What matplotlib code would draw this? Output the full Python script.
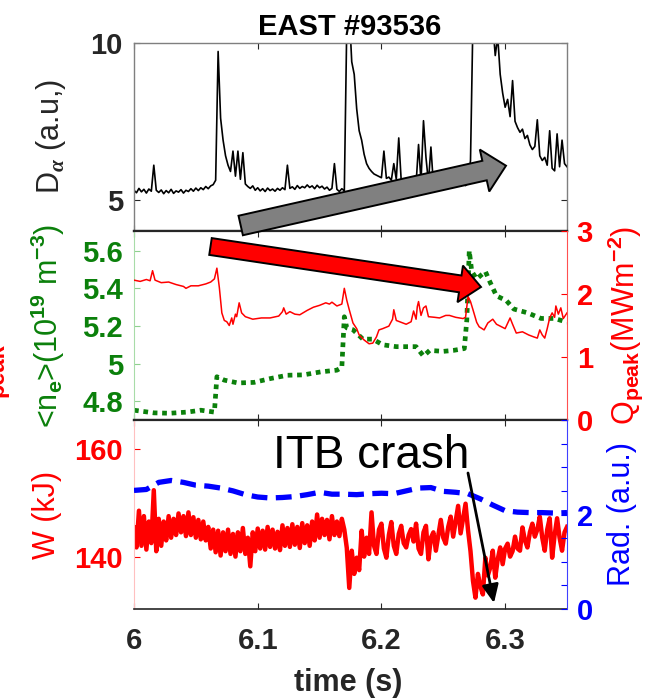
import numpy as np
import matplotlib
matplotlib.use("Agg")
import matplotlib.pyplot as plt
from matplotlib.patches import FancyArrow, FancyArrowPatch

plt.rcParams.update({
    "font.family": ["Liberation Sans", "DejaVu Sans"],
    "font.weight": "bold",
    "mathtext.fontset": "custom",
    "mathtext.rm": "Liberation Sans:bold",
    "mathtext.it": "Liberation Serif:italic",
    "mathtext.bf": "Liberation Sans:bold",
    "mathtext.default": "rm",
})

# ---------------- data ----------------
title = "EAST #93536"
xticks = [6.0, 6.1, 6.2, 6.3]
xticklabels = ["6", "6.1", "6.2", "6.3"]

# D_alpha (a.u.) sampled every 2 ms from 6.000 s
t_da = np.round(6.0 + 0.002 * np.arange(176), 3)
d_alpha = [
    5.30, 5.22, 5.36, 5.25, 5.33, 5.21, 5.34, 5.27, 6.10, 5.30,
    5.23, 5.31, 5.19, 5.29, 5.22, 5.33, 5.20, 5.28, 5.24, 5.32,
    5.21, 5.30, 5.26, 5.35, 5.27, 5.37, 5.29, 5.38, 5.32, 5.42,
    5.35, 5.44, 5.48, 5.62, 9.73, 7.60, 6.90, 6.40, 6.10, 5.90,
    6.55, 5.75, 6.55, 5.65, 6.50, 5.50, 5.42, 5.36, 5.44, 5.30,
    5.38, 5.28, 5.35, 5.26, 5.37, 5.29, 5.34, 5.27, 5.36, 5.30,
    5.38, 5.32, 6.10, 5.36, 5.41, 5.33, 5.45, 5.36, 5.42, 5.38,
    5.47, 5.39, 5.44, 5.35, 5.46, 5.38, 5.43, 5.34, 5.40, 5.30,
    5.36, 6.15, 5.33, 5.26, 5.35, 5.28, 10.6, 11.0, 9.40, 9.00,
    7.90, 7.20, 6.90, 6.45, 6.15, 6.00, 5.90, 5.82, 5.78, 5.74,
    5.70, 6.55, 5.68, 5.72, 5.62, 6.15, 5.65, 6.97, 5.60, 5.66,
    5.55, 5.62, 5.52, 5.60, 5.50, 6.76, 5.58, 7.52, 6.35, 5.55,
    6.68, 5.50, 5.46, 5.52, 5.44, 5.50, 5.42, 5.48, 5.40, 5.47,
    5.41, 5.48, 5.43, 5.50, 5.45, 5.52, 6.25, 10.8, 11.0, 11.0,
    11.0, 11.0, 11.0, 11.0, 11.0, 10.6, 9.60, 10.2, 9.00, 8.40,
    7.95, 8.20, 7.65, 8.80, 7.50, 7.30, 7.15, 7.25, 6.95, 7.05,
    6.75, 6.60, 6.70, 7.55, 6.40, 6.25, 6.35, 6.10, 7.20, 6.00,
    5.92, 7.10, 6.05, 6.90, 6.15, 6.05,
]

# line-averaged density <n_e> (1e19 m^-3)
t_ne = [6.000, 6.016, 6.029, 6.043, 6.054, 6.065, 6.067, 6.073, 6.084, 6.097,
        6.110, 6.124, 6.137, 6.151, 6.164, 6.168, 6.170, 6.172, 6.177, 6.185,
        6.193, 6.201, 6.212, 6.220, 6.228, 6.234, 6.239, 6.250, 6.258, 6.267,
        6.269, 6.271, 6.273, 6.277, 6.284, 6.288, 6.293, 6.301, 6.307, 6.318,
        6.329, 6.340, 6.350]
n_e = [4.752, 4.738, 4.736, 4.742, 4.752, 4.742, 4.930, 4.912, 4.897, 4.900,
       4.920, 4.938, 4.940, 4.956, 4.965, 4.980, 5.249, 5.190, 5.180, 5.130,
       5.130, 5.100, 5.090, 5.090, 5.090, 5.040, 5.070, 5.065, 5.070, 5.080,
       5.230, 5.600, 5.490, 5.450, 5.490, 5.430, 5.360, 5.335, 5.290, 5.270,
       5.240, 5.240, 5.220]

# divertor peak heat flux Q_peak (MW m^-2)
t_q = [6.000, 6.005, 6.010, 6.013, 6.015, 6.017, 6.022, 6.028, 6.034, 6.040,
       6.042, 6.046, 6.052, 6.058, 6.062, 6.065, 6.067, 6.069, 6.071, 6.073,
       6.075, 6.077, 6.079, 6.080, 6.082, 6.083, 6.085, 6.087, 6.090, 6.096,
       6.103, 6.110, 6.117, 6.120, 6.121, 6.123, 6.126, 6.130, 6.134, 6.140,
       6.145, 6.150, 6.155, 6.158, 6.160, 6.164, 6.168, 6.170, 6.172, 6.174,
       6.177, 6.180, 6.182, 6.186, 6.190, 6.193, 6.196, 6.198, 6.201, 6.206,
       6.209, 6.210, 6.212, 6.216, 6.220, 6.224, 6.226, 6.228, 6.229, 6.230,
       6.232, 6.234, 6.236, 6.238, 6.243, 6.247, 6.252, 6.255, 6.260, 6.266,
       6.268, 6.270, 6.272, 6.274, 6.277, 6.279, 6.283, 6.286, 6.290, 6.293,
       6.296, 6.300, 6.304, 6.306, 6.309, 6.314, 6.319, 6.323, 6.326, 6.328,
       6.330, 6.332, 6.334, 6.336, 6.338, 6.340, 6.341, 6.343, 6.345, 6.347,
       6.350]
q_peak = [2.22, 2.20, 2.23, 2.21, 2.37, 2.22, 2.18, 2.19, 2.15, 2.12,
          2.09, 2.13, 2.13, 2.16, 2.19, 2.24, 2.41, 2.10, 1.70, 1.58,
          1.56, 1.50, 1.62, 1.52, 1.68, 1.64, 1.86, 1.70, 1.64, 1.60,
          1.62, 1.62, 1.65, 1.72, 1.78, 1.68, 1.72, 1.68, 1.67, 1.74,
          1.79, 1.82, 1.86, 1.84, 1.87, 1.81, 1.84, 2.09, 1.90, 1.75,
          1.54, 1.45, 1.35, 1.27, 1.21, 1.22, 1.32, 1.43, 1.45, 1.49,
          1.60, 1.75, 1.58, 1.55, 1.52, 1.56, 1.73, 1.60, 1.80, 1.88,
          1.66, 1.78, 1.81, 1.64, 1.63, 1.62, 1.66, 1.66, 1.63, 1.61,
          1.63, 1.96, 1.88, 1.75, 1.55, 1.48, 1.43, 1.54, 1.60, 1.52,
          1.49, 1.45, 1.62, 1.52, 1.38, 1.40, 1.35, 1.32, 1.30, 1.43,
          1.35, 1.30, 1.45, 1.62, 1.70, 1.63, 1.81, 1.68, 1.78, 1.61,
          1.70]

# stored energy W (kJ) sampled every 2 ms
t_w = np.round(6.0 + 0.002 * np.arange(176), 3)
w_kj = [
    145.4, 141.7, 148.5, 142.0, 147.5, 141.3, 146.5, 142.5, 152.3, 141.0,
    147.0, 142.0, 146.5, 143.0, 147.5, 143.5, 147.0, 144.0, 148.0, 144.5,
    147.5, 143.8, 148.2, 144.0, 147.3, 143.5, 146.8, 143.2, 146.5, 143.0,
    145.5, 141.5, 145.0, 140.8, 144.8, 140.2, 144.5, 141.0, 145.0, 140.5,
    144.2, 140.0, 144.5, 141.0, 145.3, 140.5, 143.5, 138.2, 144.5, 141.0,
    145.2, 141.5, 144.8, 141.3, 145.5, 141.8, 145.0, 141.5, 144.6, 141.2,
    145.8, 142.0, 145.3, 141.8, 146.0, 142.2, 145.5, 141.6, 146.2, 142.5,
    145.8, 142.0, 146.5, 143.0, 147.8, 143.5, 147.0, 144.0, 146.8, 143.2,
    147.5, 144.0, 146.5, 143.8, 147.0, 145.0, 141.6, 134.2, 141.1, 136.8,
    139.8, 137.5, 144.8, 140.0, 143.5, 140.5, 148.2, 142.0, 140.5, 145.0,
    146.1, 141.5, 139.8, 144.0, 146.4, 142.0, 140.5, 144.2, 145.7, 142.5,
    141.7, 144.0, 145.1, 142.8, 146.1, 141.5, 140.5, 144.5, 145.7, 139.5,
    143.5, 144.5, 141.1, 144.0, 146.8, 143.5, 142.4, 145.5, 147.4, 143.7,
    146.5, 149.4, 144.3, 147.0, 149.8, 144.9, 141.0, 135.5, 132.4, 136.8,
    134.5, 133.0, 139.8, 136.5, 138.0, 141.1, 136.1, 139.5, 141.7, 138.6,
    141.5, 142.4, 140.0, 141.0, 143.7, 141.5, 141.1, 145.4, 143.0, 141.7,
    144.5, 146.1, 143.7, 145.0, 147.4, 143.5, 141.1, 145.0, 147.1, 139.8,
    144.0, 147.1, 143.5, 141.1, 144.5, 145.5,
]

# radiation (a.u.)
t_rad = [6.00, 6.01, 6.02, 6.03, 6.04, 6.05, 6.06, 6.07, 6.08, 6.09,
         6.10, 6.11, 6.12, 6.13, 6.14, 6.15, 6.16, 6.17, 6.18, 6.19,
         6.20, 6.21, 6.22, 6.23, 6.24, 6.25, 6.26, 6.27, 6.28, 6.29,
         6.30, 6.31, 6.32, 6.33, 6.34, 6.35]
rad = [2.51, 2.53, 2.68, 2.72, 2.68, 2.62, 2.60, 2.56, 2.50, 2.42,
       2.37, 2.35, 2.36, 2.38, 2.42, 2.47, 2.43, 2.43, 2.42, 2.44,
       2.45, 2.44, 2.50, 2.56, 2.57, 2.49, 2.47, 2.44, 2.33, 2.20,
       2.08, 2.05, 2.04, 2.04, 2.03, 2.04]

# ---------------- style ----------------
W_PX, H_PX = 648, 700
GREEN = "#0b800b"
RED = "#ff0000"
BLUE = "#0000ff"
DARK = "#262626"
FS = 21      # tick labels
FL = 22      # axis labels

fig = plt.figure(figsize=(6.48, 7.0), dpi=100)

def rect(top, bottom, left=134, right=567):
    return [left / W_PX, 1 - bottom / H_PX, (right - left) / W_PX, (bottom - top) / H_PX]

ax1 = fig.add_axes(rect(43, 231))
ax2 = fig.add_axes(rect(231, 420))
ax3 = fig.add_axes(rect(420, 609))
ax2r = ax2.twinx()
ax3r = ax3.twinx()

for ax in (ax1, ax2, ax3, ax2r, ax3r):
    ax.set_xlim(6.0, 6.35)
    ax.set_xticks(xticks)
    ax.tick_params(axis="both", which="both", direction="in", length=4, width=0.8,
                   labelsize=FS)

# ---- panel 1 ----
ax1.plot(t_da, d_alpha, color="black", lw=1.2)
ax1.set_ylim(4, 10)
ax1.set_yticks([5, 10])
ax1.set_yticklabels(["5", "10"])
ax1.tick_params(axis="x", top=True, bottom=True, labelbottom=False, color=DARK)
ax1.tick_params(axis="y", left=True, right=True, labelcolor=DARK, pad=8, color=DARK)
for s in ("left", "top", "right"):
    ax1.spines[s].set_color("#7f7f7f")
    ax1.spines[s].set_linewidth(1.0)
ax1.spines["bottom"].set_color(DARK)
ax1.spines["bottom"].set_linewidth(1.6)
ax1.set_ylabel(r"D$_{\mathit{\alpha}}$ (a.u,)", fontsize=FL, color=DARK)
ax1.yaxis.set_label_coords(-0.152, 0.5)

# ---- panel 2 ----
ax2.plot(t_ne, n_e, color=GREEN, lw=3.4, linestyle=(0, (1, 1.0)))
ax2.set_ylim(4.7, 5.705)
ax2.set_yticks([4.8, 5.0, 5.2, 5.4, 5.6])
ax2.set_yticklabels(["4.8", "5", "5.2", "5.4", "5.6"])
ax2.tick_params(axis="x", top=True, bottom=True, labelbottom=False, color=DARK)
ax2.tick_params(axis="y", left=True, right=False, labelcolor=GREEN, color="#8fd08f", pad=8)
ax2.spines["left"].set_color("#a8dca8")
ax2.spines["right"].set_visible(False)
ax2.spines["top"].set_color(DARK)
ax2.spines["top"].set_linewidth(1.6)
ax2.spines["bottom"].set_color(DARK)
ax2.spines["bottom"].set_linewidth(1.6)
ax2.set_ylabel(r"<n$_e$>(10$^{19}$ m$^{-3}$)", fontsize=FL, color=GREEN)
ax2.yaxis.set_label_coords(-0.155, 0.5)

ax2r.plot(t_q, q_peak, color=RED, lw=1.1)
ax2r.set_ylim(0, 3)
ax2r.set_yticks([0, 1, 2, 3])
ax2r.set_yticklabels(["0", "1", "2", "3"])
ax2r.tick_params(axis="y", right=True, left=False, labelcolor=RED, color=RED, pad=7)
ax2r.tick_params(axis="x", top=False, bottom=False, labelbottom=False)
for s in ("left", "top", "bottom"):
    ax2r.spines[s].set_visible(False)
ax2r.spines["right"].set_color("#ff5050")
ax2r.set_ylabel(r"Q$_{peak}$(MWm$^{-2}$)", fontsize=FL, color=RED)
ax2r.yaxis.set_label_coords(1.09, 0.5)

# ---- panel 3 ----
ax3.plot(t_w, w_kj, color=RED, lw=3.2)
ax3.set_ylim(130.3, 165.3)
ax3.set_yticks([140, 160])
ax3.set_yticklabels(["140", "160"])
ax3.set_xticklabels(xticklabels)
ax3.tick_params(axis="x", top=True, bottom=True, labelcolor=DARK, color=DARK, pad=13)
ax3.tick_params(axis="y", left=True, right=False, labelcolor=RED, color=RED, pad=8)
ax3.spines["left"].set_color("#ffc0c0")
ax3.spines["right"].set_visible(False)
ax3.spines["top"].set_color(DARK)
ax3.spines["top"].set_linewidth(1.6)
ax3.spines["bottom"].set_color(DARK)
ax3.spines["bottom"].set_linewidth(1.2)
ax3.set_ylabel("W (kJ)", fontsize=FL, color=RED)
ax3.yaxis.set_label_coords(-0.166, 0.5)

ax3r.plot(t_rad, rad, color=BLUE, lw=3.8, linestyle=(0, (3.0, 1.6)))
ax3r.set_ylim(0, 4)
ax3r.set_yticks([0, 0.5, 1, 1.5, 2, 2.5, 3, 3.5, 4])
ax3r.set_yticklabels(["0", "", "", "", "2", "", "", "", ""])
ax3r.tick_params(axis="y", right=True, left=False, labelcolor=BLUE, color=BLUE, pad=7)
ax3r.tick_params(axis="x", top=False, bottom=False, labelbottom=False)
for s in ("left", "top", "bottom"):
    ax3r.spines[s].set_visible(False)
ax3r.spines["right"].set_color("#4040ff")
ax3r.set_ylabel("Rad. (a.u.)", fontsize=FL, color=BLUE)
ax3r.yaxis.set_label_coords(1.092, 0.5)

# ---- figure texts ----
fig.text(350 / W_PX, 1 - 35 / H_PX, title, ha="center", va="baseline",
         fontsize=FS, color="black")
fig.text(348 / W_PX, 1 - 683 / H_PX, "time (s)", ha="center", va="center",
         fontsize=FL, color=DARK)
fig.text(273 / W_PX, 1 - 468 / H_PX, "ITB crash", ha="left", va="baseline",
         fontsize=33, fontweight="normal", color="black")
# partially cropped label at the very left edge, as in the reference
fig.text(8 / W_PX, 1 - 370 / H_PX, "peak", ha="right", va="center", rotation=90,
         fontsize=17, color=RED)

# ---- annotation arrows (figure inches) ----
def px(x, y):
    return x / 100.0, (H_PX - y) / 100.0

x0, y0 = px(210.5, 246.5)
x1, y1 = px(481, 287)
red_arrow = FancyArrow(x0, y0, x1 - x0, y1 - y0, width=0.17, head_width=0.37,
                       head_length=0.21, length_includes_head=True,
                       facecolor=RED, edgecolor="black", lw=1.4,
                       transform=fig.dpi_scale_trans)
fig.add_artist(red_arrow)

x0, y0 = px(240.7, 225.5)
x1, y1 = px(506, 165.7)
gray_arrow = FancyArrow(x0, y0, x1 - x0, y1 - y0, width=0.20, head_width=0.43,
                        head_length=0.22, length_includes_head=True,
                        facecolor="#808080", edgecolor="black", lw=1.4,
                        transform=fig.dpi_scale_trans)
fig.add_artist(gray_arrow)

itb_arrow = FancyArrowPatch(px(468, 473), px(494, 603), transform=fig.dpi_scale_trans,
                            arrowstyle="-|>,head_length=0.55,head_width=0.25",
                            mutation_scale=20, lw=2.0, color="black",
                            shrinkA=0, shrinkB=0)
fig.add_artist(itb_arrow)

fig.savefig("out.png", dpi=100)
